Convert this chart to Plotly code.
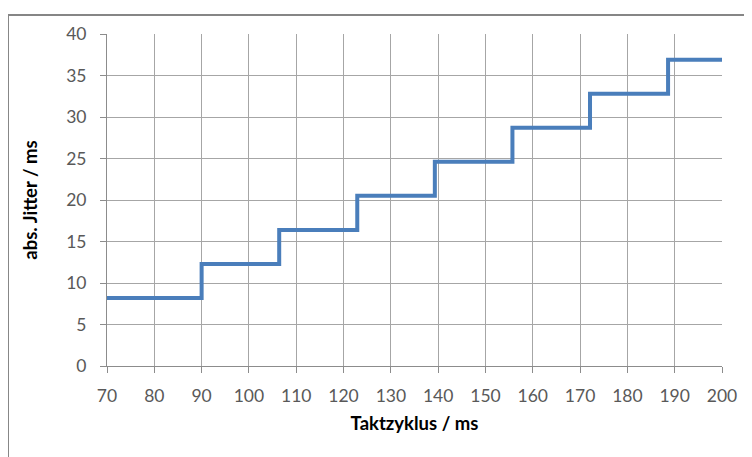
import plotly.graph_objects as go

# Data
takt = [70, 90, 106.4, 122.9, 139.3, 155.7, 172.1, 188.6, 200]
jitter = [8.2, 12.3, 16.4, 20.5, 24.6, 28.7, 32.8, 36.9, 36.9]
x_ticks = list(range(70, 201, 10))
y_ticks = list(range(0, 41, 5))

fig = go.Figure()
fig.add_trace(go.Scatter(
    x=takt, y=jitter, mode="lines", line_shape="hv",
    line=dict(color="#4a7ebb", width=4), showlegend=False,
))

font_fam = "Lato, 'Open Sans', sans-serif"
fig.update_layout(
    width=752, height=457,
    margin=dict(l=99, r=38, t=26, b=99),
    paper_bgcolor="white", plot_bgcolor="white",
    font=dict(family=font_fam, color="#595959", size=17.5),
    xaxis=dict(
        range=[70, 200], tickvals=x_ticks, showgrid=True, gridcolor="#a6a6a6", gridwidth=1,
        showline=True, linecolor="#8c8c8c", linewidth=1, ticks="outside", ticklen=6,
        tickcolor="#8c8c8c", zeroline=False, ticklabelstandoff=8,
        title=dict(text="<b>Taktzyklus / ms</b>", font=dict(size=18.5, color="#000000", family=font_fam), standoff=12),
    ),
    yaxis=dict(
        range=[0, 40], tickvals=y_ticks, showgrid=True, gridcolor="#a6a6a6", gridwidth=1,
        showline=True, linecolor="#8c8c8c", linewidth=1, ticks="outside", ticklen=6,
        tickcolor="#8c8c8c", zeroline=False, ticklabelstandoff=10,
        title=dict(text="<b>abs. Jitter / ms</b>", font=dict(size=18.5, color="#000000", family=font_fam), standoff=23),
    ),
    shapes=[dict(type="rect", xref="paper", yref="paper", x0=-0.161, x1=1.1, y0=-0.3, y1=1.057,
                 line=dict(color="#868686", width=2), fillcolor="rgba(0,0,0,0)", layer="below")],
)

fig.write_html("out.html")
